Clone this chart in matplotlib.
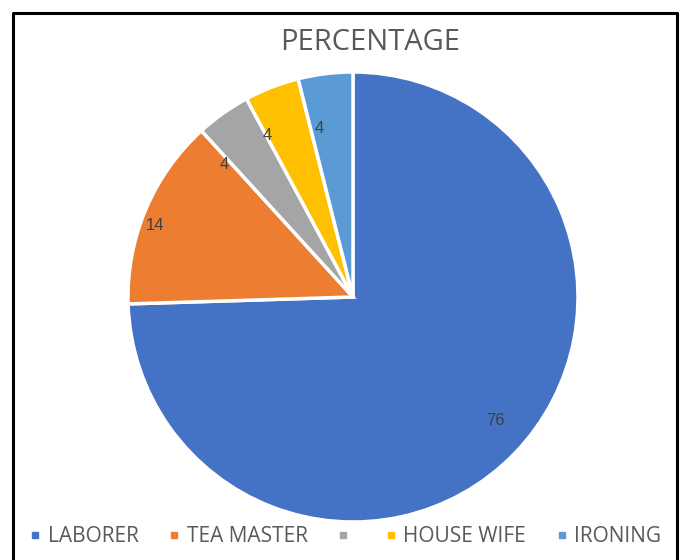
import matplotlib.pyplot as plt
from matplotlib.lines import Line2D

categories = ['LABORER', 'TEA MASTER', '', 'HOUSE WIFE', 'IRONING']
values = [76, 14, 4, 4, 4]
colors = ['#4472C4', '#ED7D31', '#A5A5A5', '#FFC000', '#5B9BD5']

plt.rcParams['font.family'] = ['Open Sans', 'DejaVu Sans']

fig = plt.figure(figsize=(6.84, 5.60), dpi=100)

# pie axes, centre ~ (353, 297) px, radius ~224 px
W, H = 684, 560
cx, cy, r = 353, 297, 225
ax = fig.add_axes([(cx - r) / W, (H - cy - r) / H, 2 * r / W, 2 * r / H])

wedges, texts = ax.pie(values, colors=colors, startangle=90, counterclock=False,
                       labels=[str(v) for v in values], labeldistance=0.8,
                       wedgeprops=dict(edgecolor='white', linewidth=2.5))
# Excel-style "best fit" label spots (in pie radius units)
label_pos = [(0.59, -0.55), (-0.84, 0.32), (-0.55, 0.59), (-0.36, 0.72), (-0.13, 0.75)]
for t, p in zip(texts, label_pos):
    t.set_color('#404040')
    t.set_fontsize(12)
    t.set_family('Liberation Sans')
    t.set_position(p)
ax.set_xlim(-1, 1)
ax.set_ylim(-1, 1)
ax.set_aspect('equal')

fig.text(370 / W, 1 - 42 / H, 'PERCENTAGE', ha='center', va='center',
         fontsize=21, color='#595959')

handles = [Line2D([], [], marker='s', linestyle='none', markersize=5,
                  markerfacecolor=c, markeredgecolor=c) for c in colors]
leg = fig.legend(handles, categories, loc='center', ncol=5,
                 bbox_to_anchor=(345 / W, 1 - 537 / H), frameon=False,
                 fontsize=15, handlelength=0.6, handletextpad=0.3,
                 columnspacing=1.4, labelcolor='#595959')

# black frame (no bottom edge)
fig.add_artist(Line2D([13 / W, 13 / W, 677 / W, 677 / W],
                      [0, 1 - 13 / H, 1 - 13 / H, 0],
                      transform=fig.transFigure, color='black', linewidth=2.2))

fig.savefig('out.png', dpi=100)
